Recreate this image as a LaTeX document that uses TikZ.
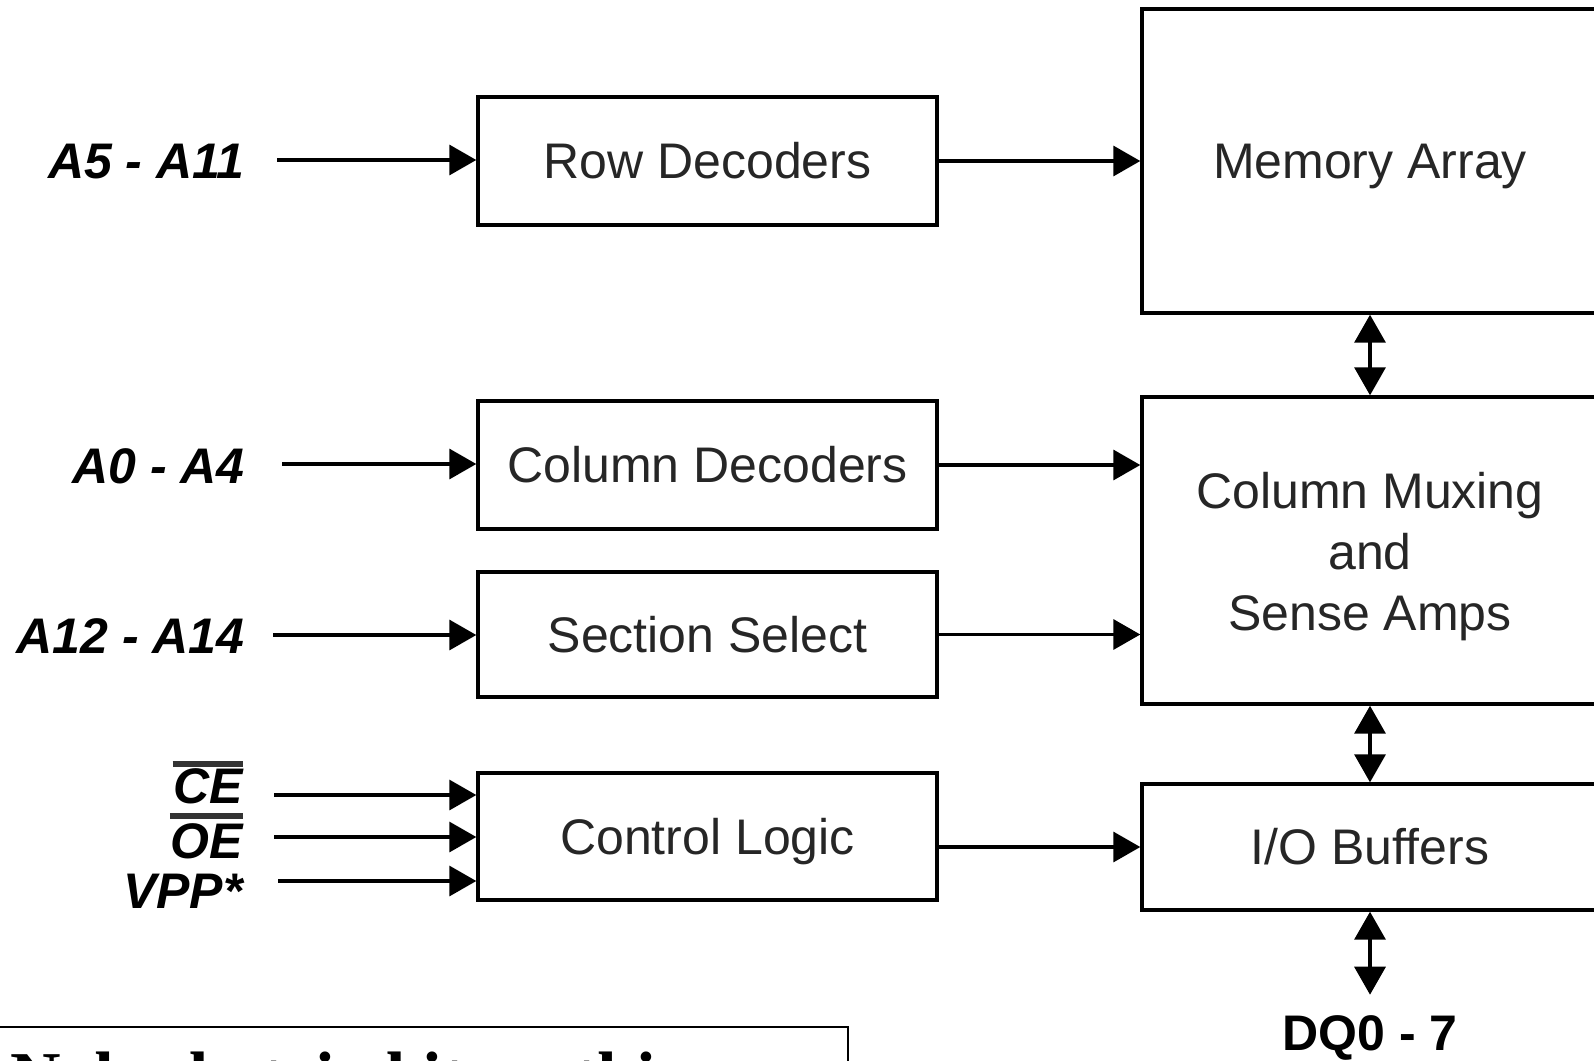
\documentclass[tikz,border=0pt]{standalone}
\usepackage{fontspec}
\setmainfont{Liberation Sans}
\newfontfamily\notefont{Liberation Serif}
\usetikzlibrary{arrows.meta}
\begin{document}
\begin{tikzpicture}[x=0.5pt,y=-0.5pt,
  box/.style={draw, line width=1.7pt, inner sep=0pt, text=black!85,
    font=\fontsize{25}{30}\selectfont, text height=17.9pt, text depth=0pt},
  boxtxt/.style={inner sep=0pt, text=black!85, font=\fontsize{25}{30.5}\selectfont, align=center},
  lbl/.style={inner sep=0pt, font=\fontsize{25}{30}\selectfont\bfseries\itshape},
  bar/.style={line width=3pt, black!80},
  arr/.style={line width=1.7pt, -{Triangle[length=13.5pt,width=15pt]}},
  dbl/.style={line width=1.7pt, {Triangle[length=14pt,width=15.5pt]}-{Triangle[length=14pt,width=15.5pt]}},
]
\useasboundingbox (0,0) rectangle (1594,1060);
\clip (0,0) rectangle (1594,1060);

% left column boxes
\node[box, minimum width=229.5pt, minimum height=64pt] (rowdec) at (707.5,161) {Row Decoders};
\node[box, minimum width=229.5pt, minimum height=64pt] (coldec) at (707.5,465) {Column Decoders};
\node[box, minimum width=229.5pt, minimum height=62.5pt] (secsel) at (707.5,634.5) {Section Select};
\node[box, minimum width=229.5pt, minimum height=63.5pt] (ctrl) at (707.5,836.5) {Control Logic};

% right column boxes
\node[box, minimum width=228pt, minimum height=152pt] (mem) at (1370,161) {Memory Array};
\node[box, minimum width=228pt, minimum height=153.5pt] (colmux) at (1370,550.5) {};
\node[boxtxt, anchor=north] (colmuxtxt) at (1370,472) {Column Muxing\\and\\Sense Amps};
\node[box, minimum width=228pt, minimum height=63pt] (io) at (1370,847) {I/O Buffers};

% input labels
\node[lbl, anchor=east] (a5) at (245,162) {A5 - A11};
\node[lbl, anchor=east] (a0) at (245,466) {A0 - A4};
\node[lbl, anchor=east] (a12) at (245,636) {A12 - A14};
\node[lbl, anchor=base east] (ce) at (243,803) {CE};
\node[lbl, anchor=base east] (oe) at (243,858) {OE};
\node[lbl, anchor=base east] (vpp) at (243,908) {VPP*};
\draw[bar] ([yshift=2pt]ce.north west) -- ([yshift=2pt]ce.north east);
\draw[bar] ([yshift=3.5pt]oe.north west) -- ([yshift=3.5pt]oe.north east);

% input arrow starts
\coordinate (a5s) at (277,160);
\coordinate (a0s) at (282,464);
\coordinate (a12s) at (273,635);
\coordinate (ces) at (274,795);
\coordinate (oes) at (274,837);
\coordinate (vpps) at (278,881);

\draw[arr] (a5s) -- (a5s -| rowdec.west);
\draw[arr] (a0s) -- (a0s -| coldec.west);
\draw[arr] (a12s) -- (a12s -| secsel.west);
\draw[arr] (ces) -- (ces -| ctrl.west);
\draw[arr] (oes) -- (oes -| ctrl.west);
\draw[arr] (vpps) -- (vpps -| ctrl.west);

% left to right connectors
\draw[arr] (rowdec.east) -- (rowdec.east -| mem.west);
\draw[arr] (coldec.east) -- (coldec.east -| colmux.west);
\draw[arr] (secsel.east) -- (secsel.east -| colmux.west);
\draw[arr] (ctrl.east |- io.west) -- (io.west);

% vertical bidirectional
\draw[dbl] (mem.south) -- (colmux.north);
\draw[dbl] (colmux.south) -- (io.north);
\node[inner sep=0pt, anchor=base, font=\fontsize{25}{30}\selectfont\bfseries] (dq) at (1370,1050) {DQ0 - 7};
\draw[dbl, shorten >=10pt] (io.south) -- (dq.north);

% clipped note box
\draw[line width=1.2pt] (-5,1027) rectangle (848,1140);
\node[inner sep=0pt, anchor=base west, font=\notefont\bfseries\fontsize{35}{42}\selectfont] (note) at (10,1100) {Nobody tried it on this};
\end{tikzpicture}
\end{document}
